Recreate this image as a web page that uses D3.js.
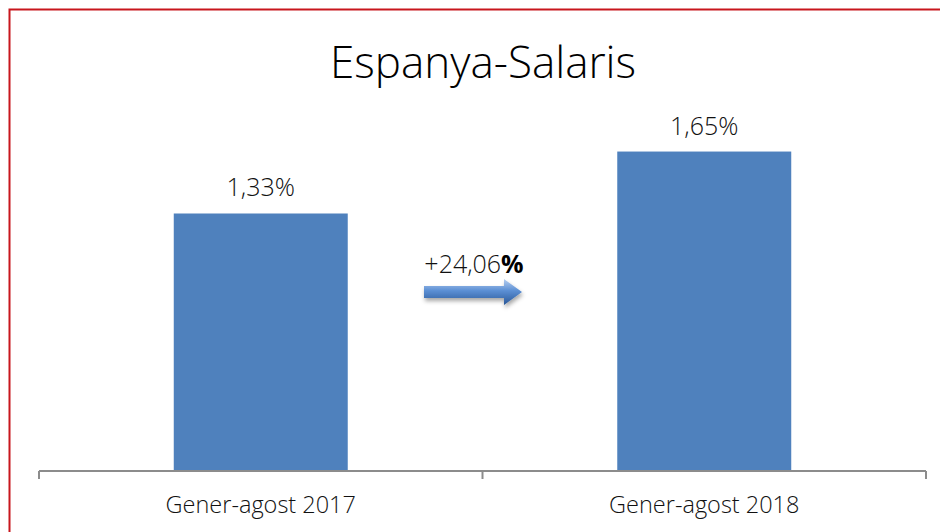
<!DOCTYPE html>
<html lang="ca">
<head>
	<meta charset="UTF-8">
	<title>Espanya-Salaris</title>
	<style>
		body { margin: 0; background: #fff; }
		text { font-family: "Open Sans", Lato, sans-serif; font-weight: 300; fill: #111; }
	</style>
</head>
<body>

	<script src="https://d3js.org/d3.v7.min.js" charset="utf-8"></script>

	<script type="text/javascript">

		var width = 940,
			height = 532;

		var chartTitle = "Espanya-Salaris";
		var categories = [ "Gener-agost 2017", "Gener-agost 2018" ];
		var values = [ 1.33, 1.65 ];
		var valueLabels = [ "1,33%", "1,65%" ];
		var changeLabel = "+24,06";

		var barColor = "#4f81bd";

		var svg = d3.select( "body" )
					.append( "svg" )
					.attr( "width", width )
					.attr( "height", height );

		// red frame, right and bottom edges fall outside the picture
		svg.append( "rect" )
			.attr( "x", 9.5 ).attr( "y", 9.5 )
			.attr( "width", 960 ).attr( "height", 560 )
			.attr( "fill", "none" )
			.attr( "stroke", "#c8161d" )
			.attr( "stroke-width", 2 );

		var x = d3.scaleBand()
					.domain( categories )
					.range( [ 39, 926 ] )
					.paddingInner( 0.6077 )
					.paddingOuter( 0.30385 );

		var y = d3.scaleLinear()
					.domain( [ 0, 1.8 ] )
					.range( [ 471, 122.5 ] );

		// title
		svg.append( "text" )
			.attr( "x", 483 )
			.attr( "y", 78 )
			.attr( "text-anchor", "middle" )
			.style( "font-size", "44px" )
			.style( "fill", "#000" )
			.text( chartTitle );

		// bars
		svg.selectAll( "rect.bar" )
			.data( values )
			.enter()
			.append( "rect" )
			.attr( "class", "bar" )
			.attr( "x", function(d, i) { return x( categories[i] ); } )
			.attr( "y", function(d) { return y(d); } )
			.attr( "width", x.bandwidth() )
			.attr( "height", function(d) { return y(0) - y(d); } )
			.attr( "fill", barColor );

		// value labels
		svg.selectAll( "text.value" )
			.data( values )
			.enter()
			.append( "text" )
			.attr( "class", "value" )
			.attr( "x", function(d, i) { return x( categories[i] ) + x.bandwidth() / 2; } )
			.attr( "y", function(d) { return y(d) - 17; } )
			.attr( "text-anchor", "middle" )
			.style( "font-size", "25px" )
			.text( function(d, i) { return valueLabels[i]; } );

		// category axis
		var axis = svg.append( "g" )
			.attr( "transform", "translate(0," + y(0) + ")" )
			.call( d3.axisBottom( x ).tickSize( 0 ).tickPadding( 0 ) );
		axis.select( ".domain" ).remove();
		axis.selectAll( ".tick" ).remove();

		axis.append( "line" )
			.attr( "x1", 39 ).attr( "x2", 926 )
			.attr( "stroke", "#8c8c8c" ).attr( "stroke-width", 2 );

		/* tick marks at the edges and between the two categories */
		var dividers = [ 39, (x( categories[0] ) + x.bandwidth() + x( categories[1] )) / 2, 926 ];
		axis.selectAll( "line.divider" )
			.data( dividers )
			.enter()
			.append( "line" )
			.attr( "class", "divider" )
			.attr( "x1", function(d) { return d; } )
			.attr( "x2", function(d) { return d; } )
			.attr( "y1", 0 ).attr( "y2", 8 )
			.attr( "stroke", "#8c8c8c" ).attr( "stroke-width", 2 );

		axis.selectAll( "text.cat" )
			.data( categories )
			.enter()
			.append( "text" )
			.attr( "class", "cat" )
			.attr( "x", function(d) { return x(d) + x.bandwidth() / 2; } )
			.attr( "y", 42 )
			.attr( "text-anchor", "middle" )
			.style( "font-size", "23.5px" )
			.text( function(d) { return d; } );

		// growth arrow between the bars
		var defs = svg.append( "defs" );
		var grad = defs.append( "linearGradient" )
			.attr( "id", "arrowFill" )
			.attr( "x1", 0 ).attr( "y1", 0 )
			.attr( "x2", 0 ).attr( "y2", 1 );
		grad.append( "stop" ).attr( "offset", "0%" ).attr( "stop-color", "#b7cff0" );
		grad.append( "stop" ).attr( "offset", "45%" ).attr( "stop-color", "#5b8fd4" );
		grad.append( "stop" ).attr( "offset", "100%" ).attr( "stop-color", "#2a5797" );

		var shadow = defs.append( "filter" )
			.attr( "id", "arrowShadow" )
			.attr( "x", "-20%" ).attr( "y", "-50%" )
			.attr( "width", "140%" ).attr( "height", "200%" );
		shadow.append( "feDropShadow" )
			.attr( "dx", 1 ).attr( "dy", 3 )
			.attr( "stdDeviation", 2 )
			.attr( "flood-color", "#000" )
			.attr( "flood-opacity", 0.35 );

		var ax = 424, ay = 292; // arrow tail left, centre line
		svg.append( "path" )
			.attr( "d", "M" + ax + "," + (ay - 6) +
						"H" + (ax + 80) + "V" + (ay - 13) +
						"L" + (ax + 98) + "," + ay +
						"L" + (ax + 80) + "," + (ay + 13) +
						"V" + (ay + 6) + "H" + ax + "Z" )
			.attr( "fill", "url(#arrowFill)" )
			.attr( "filter", "url(#arrowShadow)" );

		var change = svg.append( "text" )
			.attr( "x", 474 )
			.attr( "y", 273 )
			.attr( "text-anchor", "middle" )
			.style( "font-size", "25px" );
		change.append( "tspan" ).text( changeLabel );
		change.append( "tspan" )
			.style( "font-weight", 700 )
			.style( "fill", "#000" )
			.text( "%" );

	</script>
</body>
</html>
